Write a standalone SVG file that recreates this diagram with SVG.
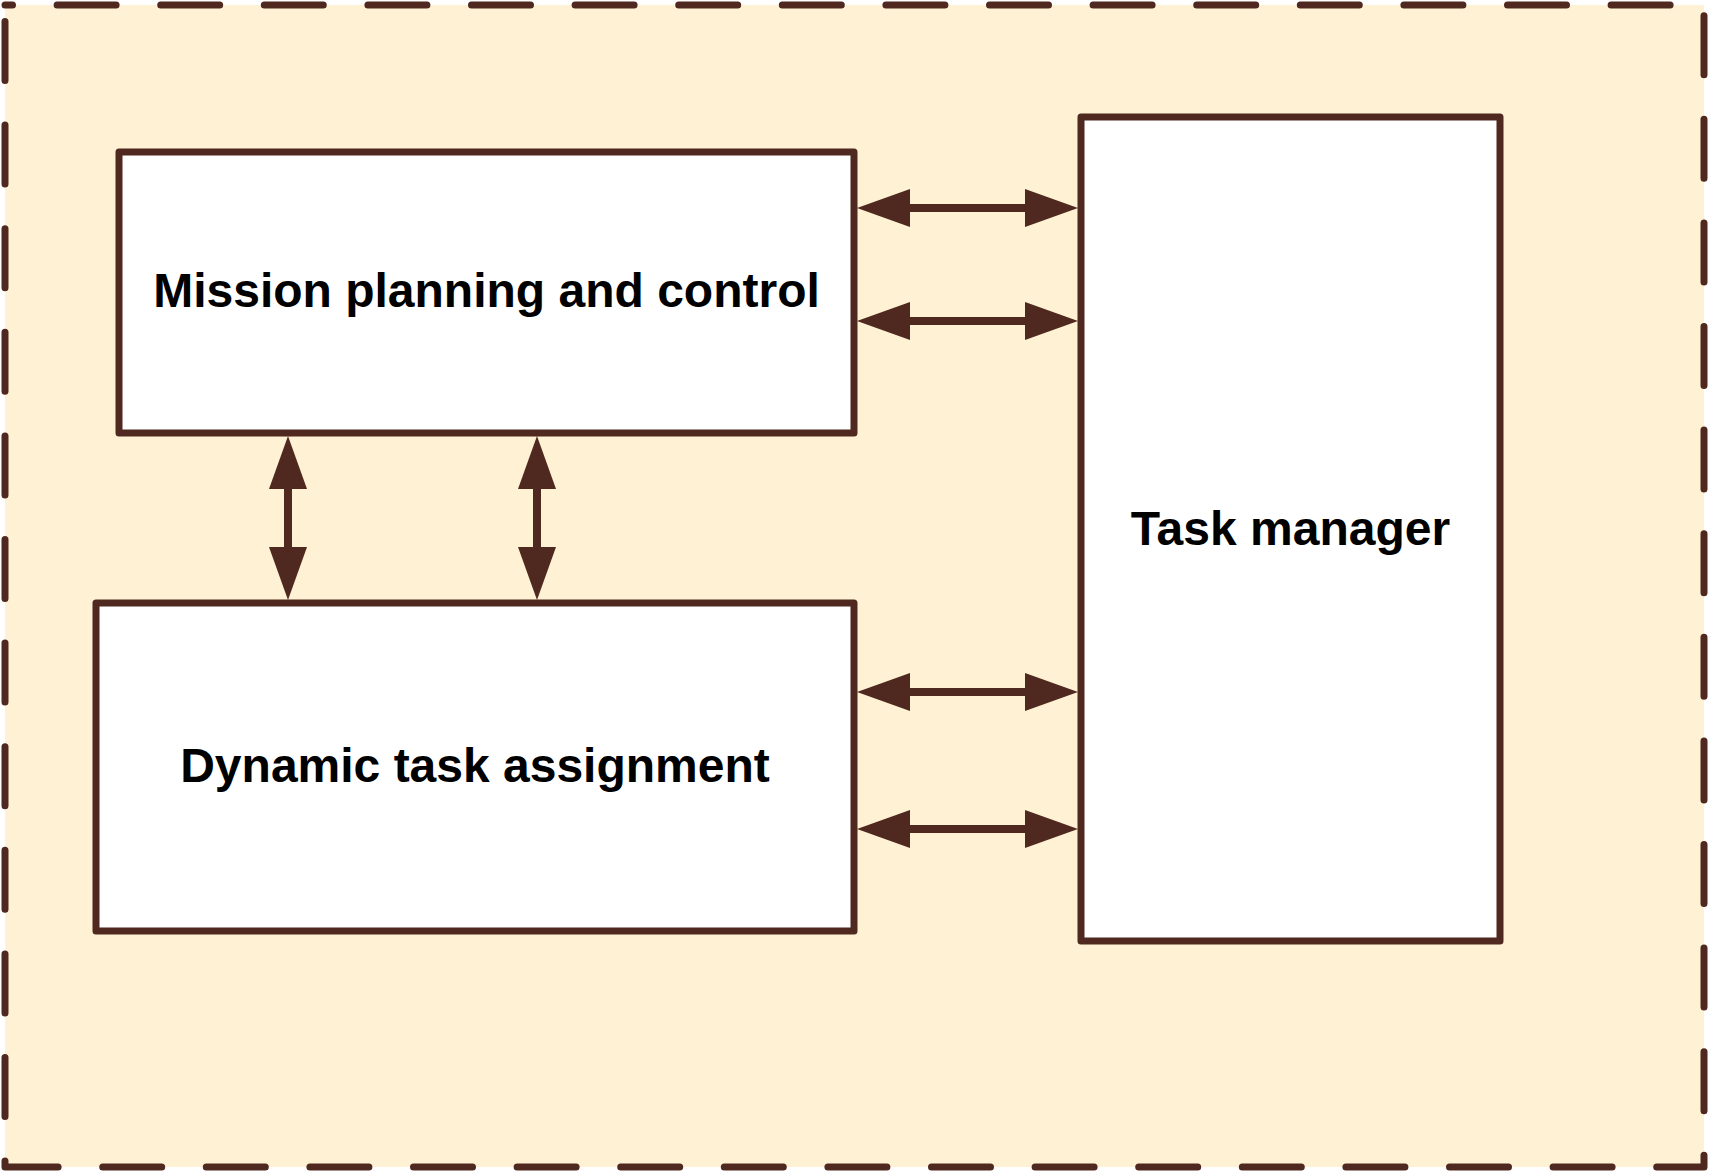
<svg xmlns="http://www.w3.org/2000/svg" width="1709" height="1173" viewBox="0 0 1709 1173">
  <style>
    .bg { fill: #FFF1D4; stroke: #4F281F; stroke-width: 7; stroke-dasharray: 59 44.6; stroke-dashoffset: 51.5; stroke-linecap: round; stroke-linejoin: round; }
    .box { fill: #FFFFFF; stroke: #4F281F; stroke-width: 7; stroke-linejoin: round; }
    .lbl { font-family: "Liberation Sans", Arial, sans-serif; font-weight: bold; font-size: 48px; fill: #000000; text-anchor: middle; }
    .conn { stroke: #4F281F; stroke-width: 8; fill: none; marker-start: url(#head); marker-end: url(#head); }
  </style>
  <defs>
    <marker id="head" viewBox="0 0 53 38" refX="13" refY="19" markerWidth="53" markerHeight="38" markerUnits="userSpaceOnUse" orient="auto-start-reverse">
      <path d="M0,0 L53,19 L0,38 Z" fill="#4F281F"/>
    </marker>
  </defs>
  <g id="container">
    <path class="bg" d="M5,5 H1704 V1167 H5 Z"/>
  </g>
  <g id="mission-planning">
    <rect class="box" x="119" y="152" width="735" height="281"/>
    <text class="lbl" x="486.5" y="307">Mission planning and control</text>
  </g>
  <g id="dynamic-task-assignment">
    <rect class="box" x="96" y="603" width="758" height="328"/>
    <text class="lbl" x="475" y="782">Dynamic task assignment</text>
  </g>
  <g id="task-manager">
    <rect class="box" x="1081" y="117" width="419" height="824"/>
    <text class="lbl" x="1290.5" y="545">Task manager</text>
  </g>
  <g id="connectors">
    <line class="conn" x1="897" y1="208" x2="1038" y2="208"/>
    <line class="conn" x1="897" y1="321" x2="1038" y2="321"/>
    <line class="conn" x1="897" y1="692" x2="1038" y2="692"/>
    <line class="conn" x1="897" y1="829" x2="1038" y2="829"/>
    <line class="conn" x1="288" y1="476" x2="288" y2="560"/>
    <line class="conn" x1="537" y1="476" x2="537" y2="560"/>
  </g>
</svg>
